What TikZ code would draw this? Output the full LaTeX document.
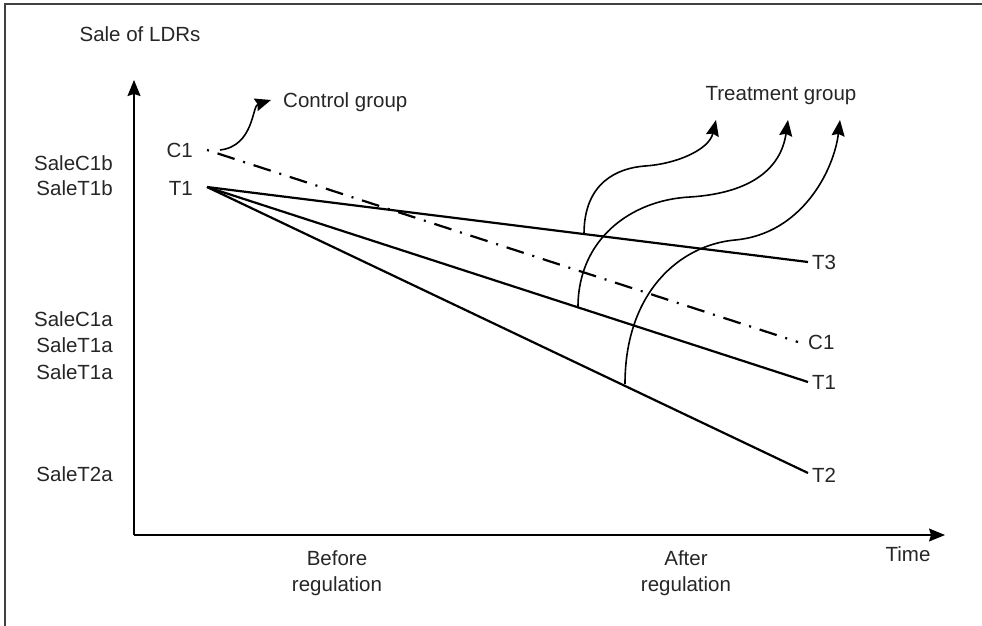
\documentclass[tikz,border=0pt]{standalone}
\usepackage{fontspec}
\setmainfont{Liberation Sans}
\usetikzlibrary{arrows.meta}
\begin{document}
\begin{tikzpicture}[x=1pt,y=-1pt,
  lbl/.style={inner sep=0pt, font=\fontsize{20.5}{24}\selectfont, text=black!85},
  frameline/.style={draw=black!75, line width=1.6pt},
  axisline/.style={draw=black, line width=1.3pt, -{Stealth[length=16pt,width=13pt,inset=2pt]}},
  trendline/.style={draw=black, line width=2.2pt},
  ctrlline/.style={draw=black, line width=2.2pt, dash pattern=on 2pt off 9pt on 18pt off 9pt},
  wavearrow/.style={draw=black, line width=1.6pt, -{Stealth[length=16pt,width=13pt,inset=2pt]}}
]
\useasboundingbox (0,0) rectangle (982,626);
% frame
\coordinate (fa) at (5,4);
\coordinate (fb) at (982,4);
\coordinate (fc) at (5,626);
\draw[frameline] (fb) -- (fa) -- (fc);
% axes
\coordinate (O) at (134,535);
\coordinate (ytip) at (134,80);
\coordinate (xtip) at (945,535);
\draw[axisline] (O) -- (ytip);
\draw[axisline] (O) -- (xtip);
% line end points
\coordinate (c1s) at (207,150);
\coordinate (c1e) at (798,342);
\coordinate (t1s) at (207,187);
\coordinate (t3e) at (808,262);
\coordinate (t1e) at (808,382);
\coordinate (t2e) at (808,473);
\draw[ctrlline] (c1s) -- (c1e);
\draw[trendline] (t1s) -- (t3e);
\draw[trendline] (t1s) -- (t1e);
\draw[trendline] (t1s) -- (t2e);
% labels
\node[lbl, anchor=base] (sale) at (140,42) {Sale of LDRs};
\node[lbl, anchor=base west] (ctrl) at (283,107) {Control group};
\node[lbl, anchor=base] (treat) at (781,100) {Treatment group};
\node[lbl, anchor=base east] (lc1) at (193,157) {C1};
\node[lbl, anchor=base east] (lt1) at (193,195) {T1};
\node[lbl, anchor=base east] (sc1b) at (113,170) {SaleC1b};
\node[lbl, anchor=base east] (st1b) at (113,195) {SaleT1b};
\node[lbl, anchor=base east] (sc1a) at (113,326) {SaleC1a};
\node[lbl, anchor=base east] (st1a) at (113,352) {SaleT1a};
\node[lbl, anchor=base east] (st1a2) at (113,379) {SaleT1a};
\node[lbl, anchor=base east] (st2a) at (113,481) {SaleT2a};
\node[lbl, anchor=base west] (rt3) at (812,269) {T3};
\node[lbl, anchor=base west] (rc1) at (808,349) {C1};
\node[lbl, anchor=base west] (rt1) at (812,389) {T1};
\node[lbl, anchor=base west] (rt2) at (812,482) {T2};
\node[lbl, anchor=base] (bef1) at (337,565) {Before};
\node[lbl, anchor=base] (bef2) at (337,591) {regulation};
\node[lbl, anchor=base] (aft1) at (686,565) {After};
\node[lbl, anchor=base] (aft2) at (686,591) {regulation};
\node[lbl, anchor=base] (time) at (908,561) {Time};
% control group arrow
\coordinate (ca) at (220,150);
\coordinate (cb) at (271,100);
\draw[wavearrow] (ca) .. controls (254,146) and (252,106) .. (cb);
% treatment group arrows
\coordinate (w1s) at (584,234);
\coordinate (w1m) at (645,166);
\coordinate (w1e) at (716,120);
\coordinate (w2s) at (578,307);
\coordinate (w2m) at (690,197);
\coordinate (w2e) at (788,120);
\coordinate (w3s) at (625,384);
\coordinate (w3m) at (735,240);
\coordinate (w3e) at (840,120);
\draw[wavearrow] (w1s) .. controls (584,182) and (618,168) .. (w1m) .. controls (676,164) and (709,150) .. (w1e);
\draw[wavearrow] (w2s) .. controls (578,240) and (630,200) .. (w2m) .. controls (752,193) and (781,168) .. (w2e);
\draw[wavearrow] (w3s) .. controls (625,292) and (680,245) .. (w3m) .. controls (802,234) and (834,170) .. (w3e);
\end{tikzpicture}
\end{document}
